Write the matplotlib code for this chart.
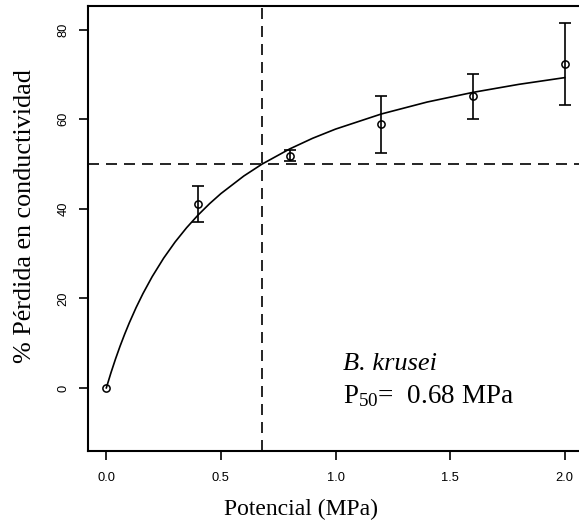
import matplotlib
matplotlib.use("Agg")
import matplotlib.pyplot as plt
import numpy as np

# ---- data ----
potential = [0.0, 0.4, 0.8, 1.2, 1.6, 2.0]
loss = [0.0, 41.1, 51.9, 58.9, 65.1, 72.3]
err_upper = [np.nan, 45.0, 53.1, 65.2, 70.1, 81.6]
err_lower = [np.nan, 37.1, 50.6, 52.4, 60.1, 63.1]

# fitted curve, points
curve_x = [0.00, 0.02, 0.04, 0.06, 0.08, 0.10, 0.13, 0.16, 0.20, 0.25, 0.30,
           0.35, 0.40, 0.45, 0.50, 0.60, 0.68, 0.80, 0.90, 1.00, 1.20, 1.40,
           1.60, 1.80, 2.00]
curve_y = [0.0, 3.35, 6.45, 9.33, 12.0, 14.5, 17.95, 21.08, 24.84, 28.97, 32.58,
           35.76, 38.59, 41.12, 43.40, 47.33, 50.0, 53.37, 55.75, 57.80, 61.18,
           63.85, 66.01, 67.80, 69.30]

p50 = 0.68
half_loss = 50
species = "B. krusei"
x_ticks = [0.0, 0.5, 1.0, 1.5, 2.0]
x_ticklabels = ["0.0", "0.5", "1.0", "1.5", "2.0"]
y_ticks = [0, 20, 40, 60, 80]
y_ticklabels = ["0", "20", "40", "60", "80"]

plt.rcParams["mathtext.fontset"] = "custom"
plt.rcParams["mathtext.rm"] = "Liberation Serif"
plt.rcParams["mathtext.it"] = "Liberation Serif:italic"

W, H = 579, 529
fig = plt.figure(figsize=(W / 100, H / 100), dpi=100)
ax_l, ax_r, ax_t, ax_b = 88, 583, 6, 451
ax = fig.add_axes([ax_l / W, 1 - ax_b / H, (ax_r - ax_l) / W, (ax_b - ax_t) / H])

lw = 1.2
ax.plot(curve_x, curve_y, color="black", lw=lw)

ex = [x for x, u in zip(potential, err_upper) if not np.isnan(u)]
ey = [y for y, u in zip(loss, err_upper) if not np.isnan(u)]
eu = [u - y for y, u in zip(loss, err_upper) if not np.isnan(u)]
el = [y - l for y, l in zip(loss, err_lower) if not np.isnan(l)]
ax.errorbar(ex, ey, yerr=[el, eu], fmt="none", ecolor="black", elinewidth=lw,
            capsize=4.3, capthick=lw)
ax.plot(potential, loss, "o", mfc="none", mec="black", ms=5.2, mew=1.1)

ax.axhline(half_loss, color="black", lw=lw, ls=(0, (6.6, 4.2)))
ax.axvline(p50, color="black", lw=lw, ls=(0, (6.6, 4.2)))

ax.set_xlim(-0.08, 2.08)
ax.set_ylim(-14.1, 85.3)
ax.set_xticks(x_ticks)
ax.set_xticklabels(x_ticklabels, fontfamily="Liberation Sans", fontsize=9.3)
ax.set_yticks(y_ticks)
ax.set_yticklabels(y_ticklabels, fontfamily="Liberation Sans", fontsize=9.3,
                   rotation=90, va="center")
ax.tick_params(axis="both", direction="out", length=6.3, width=lw, color="black")
ax.tick_params(axis="x", pad=9)
ax.tick_params(axis="y", pad=7)
for s in ax.spines.values():
    s.set_linewidth(1.5)
    s.set_color("black")

fig.text(300.7 / W, 1 - 515 / H, "Potencial (MPa)", family="Liberation Serif",
         fontsize=17, ha="center", va="baseline")
fig.text(25 / W, 1 - 216.5 / H, "% Pérdida en conductividad", family="Liberation Serif",
         fontsize=18.8, ha="center", va="center", rotation=90)

fig.text(343.3 / W, 1 - 370 / H, species, family="Liberation Serif", style="italic",
         fontsize=19, ha="left", va="baseline")
fig.text(343.3 / W, 1 - 402.7 / H, r"$\mathrm{P}_{50}$" + f"=  {p50:.2f} MPa",
         family="Liberation Serif", fontsize=19.5, ha="left", va="baseline")

fig.savefig("out.png", dpi=100)
